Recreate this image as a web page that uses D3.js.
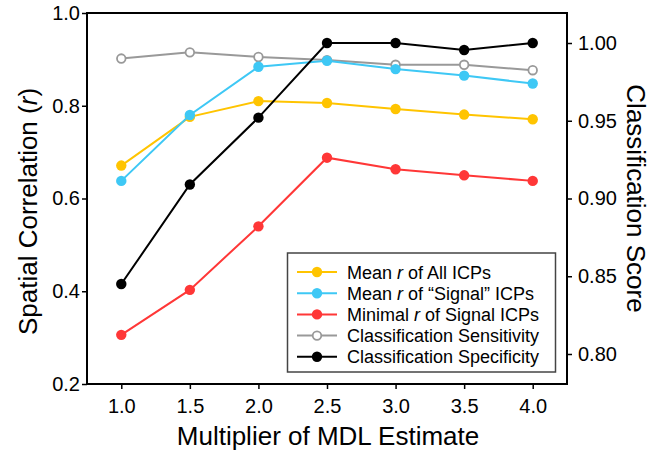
<!DOCTYPE html>
<html>
<head>
<meta charset="utf-8">
<script src="https://cdn.jsdelivr.net/npm/d3@7/dist/d3.min.js"></script>
<style>
  html, body { margin: 0; padding: 0; background: #fff; }
  svg { display: block; font-family: "Liberation Sans", Arial, Helvetica, sans-serif; }
</style>
</head>
<body>
<svg id="chart" width="654" height="454"></svg>
<script>
// ---- data ----
const multipliers = [1.0, 1.5, 2.0, 2.5, 3.0, 3.5, 4.0];
const meanAll      = [0.671, 0.776, 0.810, 0.806, 0.793, 0.781, 0.771];
const meanSignal   = [0.638, 0.780, 0.884, 0.897, 0.879, 0.865, 0.848];
const minimalSignal= [0.306, 0.403, 0.540, 0.688, 0.663, 0.650, 0.638];
const sensitivity  = [0.990, 0.994, 0.991, 0.989, 0.986, 0.986, 0.9825];
const specificity  = [0.845, 0.909, 0.952, 1.000, 1.000, 0.9955, 1.000];
const xTicks = [1.0, 1.5, 2.0, 2.5, 3.0, 3.5, 4.0];
const yLeftTicks = [0.2, 0.4, 0.6, 0.8, 1.0];
const yRightTicks = [0.80, 0.85, 0.90, 0.95, 1.00];
const legendLabels = [
  ["Mean ", "r", " of All ICPs"],
  ["Mean ", "r", " of \u201CSignal\u201D ICPs"],
  ["Minimal ", "r", " of Signal ICPs"],
  ["Classification Sensitivity"],
  ["Classification Specificity"]
];

const svg = d3.select("#chart");
const L = 87, R = 567, T = 13, B = 384;

const x = d3.scaleLinear().domain([0.75, 4.25]).range([L, R]);
const yL = d3.scaleLinear().domain([0.2, 1.0]).range([B, T]);
const yR = d3.scaleLinear().domain([0.7807, 1.0193]).range([B, T]);

const series = [
  { vals: sensitivity, axis: yR, color: "#999999", open: true },
  { vals: meanAll, axis: yL, color: "#ffc400", open: false },
  { vals: meanSignal, axis: yL, color: "#3ec8f5", open: false },
  { vals: minimalSignal, axis: yL, color: "#ff3737", open: false },
  { vals: specificity, axis: yR, color: "#000000", open: false }
];

// frame
svg.append("rect").attr("x", L).attr("y", T).attr("width", R - L).attr("height", B - T)
  .attr("fill", "none").attr("stroke", "#000").attr("stroke-width", 2);

// axes
const fs = "20px";
const gx = svg.append("g").attr("transform", `translate(0,${B})`)
  .call(d3.axisBottom(x).tickValues(xTicks).tickFormat(d3.format(".1f")).tickSize(5).tickPadding(10));
const gl = svg.append("g").attr("transform", `translate(${L},0)`)
  .call(d3.axisLeft(yL).tickValues(yLeftTicks).tickFormat(d3.format(".1f")).tickSize(5).tickPadding(2));
const gr = svg.append("g").attr("transform", `translate(${R},0)`)
  .call(d3.axisRight(yR).tickValues(yRightTicks).tickFormat(d3.format(".2f")).tickSize(5).tickPadding(6));
[gx, gl, gr].forEach(g => {
  g.select(".domain").remove();
  g.selectAll("line").attr("stroke", "#000").attr("stroke-width", 1.5);
  g.selectAll("text").attr("font-size", fs).attr("fill", "#000")
    .attr("font-family", "Liberation Sans, Arial, sans-serif");
});

// lines and markers
series.forEach(s => {
  const line = d3.line().x((d, i) => x(multipliers[i])).y(d => s.axis(d));
  svg.append("path").datum(s.vals).attr("d", line)
    .attr("fill", "none").attr("stroke", s.color).attr("stroke-width", 2);
  svg.append("g").selectAll("circle").data(s.vals).join("circle")
    .attr("cx", (d, i) => x(multipliers[i])).attr("cy", d => s.axis(d))
    .attr("r", s.open ? 4.3 : 5.2)
    .attr("fill", s.open ? "#fff" : s.color)
    .attr("stroke", s.color).attr("stroke-width", s.open ? 1.8 : 0);
});

// axis titles
svg.append("text").attr("x", (L + R) / 2 + 1).attr("y", 445)
  .attr("text-anchor", "middle").attr("font-size", "26px").text("Multiplier of MDL Estimate");

const lt = svg.append("text").attr("transform", `translate(37,${(T + B) / 2 + 13}) rotate(-90)`)
  .attr("text-anchor", "middle").attr("font-size", "26px");
lt.append("tspan").text("Spatial Correlation (");
lt.append("tspan").attr("font-style", "italic").text("r");
lt.append("tspan").text(")");

svg.append("text").attr("transform", `translate(627,${(T + B) / 2}) rotate(90)`)
  .attr("text-anchor", "middle").attr("font-size", "26px").text("Classification Score");

// legend
const legendOrder = [1, 2, 3, 0, 4];
const lg = svg.append("g");
lg.append("rect").attr("x", 287.5).attr("y", 253).attr("width", 268).attr("height", 119)
  .attr("fill", "#fff").attr("stroke", "#444").attr("stroke-width", 1.5);
legendOrder.forEach((si, k) => {
  const s = series[si];
  const yy = 272 + k * 21.2;
  lg.append("line").attr("x1", 297).attr("x2", 337).attr("y1", yy).attr("y2", yy)
    .attr("stroke", s.color).attr("stroke-width", 2);
  lg.append("circle").attr("cx", 317).attr("cy", yy).attr("r", s.open ? 4.3 : 5.2)
    .attr("fill", s.open ? "#fff" : s.color).attr("stroke", s.color)
    .attr("stroke-width", s.open ? 1.8 : 0);
  const t = lg.append("text").attr("x", 347).attr("y", yy + 6.5).attr("font-size", "18px");
  const parts = legendLabels[k];
  parts.forEach((p, j) => {
    const sp = t.append("tspan").text(p);
    if (parts.length > 1 && j === 1) sp.attr("font-style", "italic");
  });
});
</script>
</body>
</html>
